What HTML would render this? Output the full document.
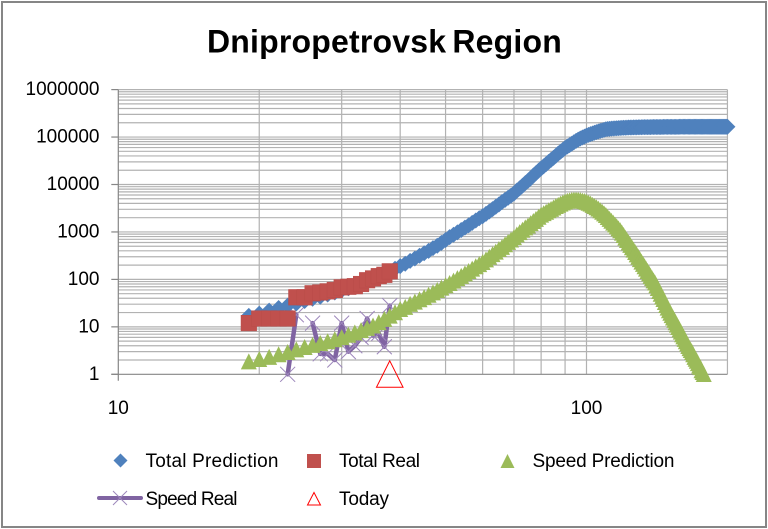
<!DOCTYPE html>
<html lang="en">
<head>
<meta charset="utf-8">
<title>Dnipropetrovsk Region</title>
<style>
html,body{margin:0;padding:0;background:#fff;}
svg{display:block;font-family:"Liberation Sans",sans-serif;}
</style>
</head>
<body>
<svg id="chart" xmlns="http://www.w3.org/2000/svg" width="768" height="529" viewBox="0 0 768 529">
  <rect x="0" y="0" width="768" height="529" fill="#ffffff"/>
  <rect x="2" y="2" width="764" height="525" fill="#ffffff" stroke="#868686" stroke-width="2"/>
  <text x="384.5" y="52.3" text-anchor="middle" font-size="32" font-weight="700" fill="#000" word-spacing="-3" letter-spacing="0.2">Dnipropetrovsk Region</text>
  <g id="grid"></g>
  <g id="axes"></g>
  <g id="marks"></g>
  <g font-size="19" fill="#000">
    <g>
      <polygon points="120.5,453.5 127.5,460.5 120.5,467.5 113.5,460.5" fill="#4F81BD"/>
      <text x="145.5" y="467" textLength="133" lengthAdjust="spacing">Total Prediction</text>
    </g>
    <g>
      <rect x="307" y="454" width="14" height="14" fill="#C0504D"/>
      <text x="339" y="467" textLength="81" lengthAdjust="spacing">Total Real</text>
    </g>
    <g>
      <polygon points="507.5,454 514.5,468 500.5,468" fill="#9BBB59"/>
      <text x="532.5" y="467" textLength="142" lengthAdjust="spacing">Speed Prediction</text>
    </g>
    <g>
      <line x1="99" y1="498" x2="141" y2="498" stroke="#8064A2" stroke-width="4" stroke-linecap="round"/>
      <path d="M113 491L127 505M127 491L113 505" stroke="#9d87bb" stroke-width="1" fill="none"/>
      <text x="145.5" y="505" textLength="92" lengthAdjust="spacing">Speed Real</text>
    </g>
    <g>
      <polygon points="314,492.5 320.5,505 307.5,505" fill="none" stroke="#ff0000" stroke-width="1"/>
      <text x="339" y="505" textLength="50" lengthAdjust="spacing">Today</text>
    </g>
  </g>
</svg>
<script>
const yTickLabels = ["1","10","100","1000","10000","100000","1000000"];
const xTickLabels = ["10","100"];
const days = [19,20,
21,22,23,24,25,26,27,28,29,30,
31,32,33,34,35,36,37,38,39,40,
41,42,43,44,45,46,47,48,49,50,
51,52,53,54,55,56,57,58,59,60,
61,62,63,64,65,66,67,68,69,70,
71,72,73,74,75,76,77,78,79,80,
81,82,83,84,85,86,87,88,89,90,
91,92,93,94,95,96,97,98,99,100,
101,102,103,104,105,106,107,108,109,110,
111,112,113,114,115,116,117,118,119,120,
121,122,123,124,125,126,127,128,129,130,
131,132,133,134,135,136,137,138,139,140,
141,142,143,144,145,146,147,148,149,150,
151,152,153,154,155,156,157,158,159,160,
161,162,163,164,165,166,167,168,169,170,
171,172,173,174,175,176,177,178,179,180,
181,182,183,184,185,186,187,188,189,190,
191,192,193,194,195,196,197,198,199,200];
const totalPrediction = [17,19,
22,25,28,31,35,39,43,48,53,59,
65,73,81,91,102,115,130,147,168,190,
214,245,275,316,355,398,457,513,589,676,
776,871,977,1096,1230,1380,1549,1738,1950,2140,
2400,2690,3020,3390,3800,4270,4730,5250,5820,6460,
7410,8320,9440,10700,12000,13500,15500,17400,19500,21900,
24300,26900,29900,33100,36300,40300,44700,49000,53700,58900,
63100,67600,72400,77600,83200,88100,93300,97700,102000,107000,
111000,115000,119000,123000,127000,131000,135000,138000,142000,146000,
147500,149000,150500,151500,152500,153500,154500,155500,156000,157000,
157500,158000,158500,159000,159300,159600,160000,160300,160700,161000,
161200,161400,161600,161800,162000,162200,162300,162400,162500,162700,
162800,162900,163000,163100,163300,163400,163500,163700,163800,164000,
164100,164100,164200,164200,164300,164300,164300,164400,164400,164400,
164500,164500,164500,164500,164600,164600,164600,164600,164700,164700,
164700,164700,164700,164800,164800,164800,164800,164800,164800,164900,
164900,164900,164900,164900,164900,164900,164900,164900,165000,165000,
165000,165000,165000,165000,165000,165000,165000,165000,165000,165000];
const speedPrediction = [1.85,2.07,
2.3,2.6,2.9,3.3,3.7,4.1,4.5,4.9,5.4,6,
6.7,7.5,8.4,9.4,10.5,12.3,14.5,17,20,23.4,
26,30,33.5,37.6,41.7,46.8,52.5,59,66,74,
83,93,105,117,132,148,166,186,207,229,
260,295,335,380,432,479,543,610,684,767,
871,977,1096,1230,1349,1514,1679,1862,2065,2291,
2455,2630,2818,3020,3236,3467,3673,3890,4121,4315,
4467,4571,4677,4732,4732,4700,4624,4519,4416,4266,
4074,3890,3673,3467,3273,3055,2818,2630,2427,2239,
2042,1862,1698,1549,1413,1288,1175,1072,955,851,
750,668,589,525,468,417,372,331,295,263,
234,209,186,166,148,132,117,105,94,85,
74,65,56,49,43,38,33,28.5,25,22,
19.5,17.4,15.5,13.8,12.3,11,9.8,8.7,7.8,6.9,
6.2,5.5,4.9,4.4,3.9,3.5,3.2,2.9,2.6,2.3,
2.1,1.9,1.7,1.5,1.4,1.2,1.1,1];
const realDays = [19,20,21,22,23,24,25,26,27,28,29,30,31,32,33,34,35,36,37,38];
const totalReal = [12,15,15,15,15,42,42,51,53,56,60,68,70,72,80,96,105,117,125,148];
const speedRealDays = [23,24,25,26,27,28,29,30,31,32,33,34,35,36,37,38];
const speedReal = [1,18,null,12,2.7,2.7,2,12,3,4,6,15,6.6,7.3,3.8,28];
const todayDay = [38];
const todayValue = [1];

const SVGNS = "http://www.w3.org/2000/svg";
const plotLeft = 118.3, pxPerXDecade = 468.2, xBase = 10, xMax = 200;
const plotBottom = 374.3, pxPerYDecade = 47.45, yDecades = 6;
const plotTop = plotBottom - yDecades * pxPerYDecade;
function xScale(v){ return plotLeft + Math.log10(v / xBase) * pxPerXDecade; }
function yScale(v){ return plotBottom - Math.log10(v) * pxPerYDecade; }
const plotRight = xScale(xMax);
function make(tag, attrs, parent){
  const el = document.createElementNS(SVGNS, tag);
  for (const k in attrs) el.setAttribute(k, attrs[k]);
  parent.appendChild(el);
  return el;
}
const grid = document.getElementById("grid");
const axes = document.getElementById("axes");
const marks = document.getElementById("marks");
const gridColor = "#b2b2b2", axisColor = "#868686";

// horizontal gridlines (major and minor)
for (let d = 0; d < yDecades; d++) {
  for (let m = 1; m <= 10; m++) {
    if (d === 0 && m === 1) continue;
    if (m === 10 && d !== yDecades - 1) continue;
    const y = yScale(m * Math.pow(10, d));
    const gl = make("line", {x1: plotLeft, x2: plotRight, y1: y, y2: y, stroke: gridColor, "stroke-width": 1.2}, grid);
    
    
  }
}
// vertical gridlines
for (let v = 20; v <= xMax; v += (v < 100 ? 10 : 100)) {
  const x = xScale(v);
  const gl = make("line", {x1: x, x2: x, y1: plotTop, y2: plotBottom, stroke: gridColor, "stroke-width": 1.2}, grid);
  
  
}
// axes
const yAxis = make("line", {x1: plotLeft, x2: plotLeft, y1: plotTop, y2: plotBottom + 6.5, stroke: axisColor, "stroke-width": 1.2}, axes);


const xAxis = make("line", {x1: plotLeft - 7, x2: plotRight, y1: plotBottom, y2: plotBottom, stroke: axisColor, "stroke-width": 1.2}, axes);


yTickLabels.forEach(function(label){
  const y = yScale(Number(label));
  const tick = make("line", {x1: plotLeft - 7, x2: plotLeft, y1: y, y2: y, stroke: axisColor, "stroke-width": 1.2}, axes);
  
  
  const t = make("text", {x: 99.5, y: y + 5.5, "text-anchor": "end", "font-size": 19, fill: "#000"}, axes);
  
  
  t.textContent = label;
});
xTickLabels.forEach(function(label){
  const x = xScale(Number(label));
  const t = make("text", {x: x, y: 414, "text-anchor": "middle", "font-size": 19, fill: "#000"}, axes);
  
  
  t.textContent = label;
});

// speed real (drawn underneath the other series; missing values break the line)
const speedRealGroup = make("g", {}, marks);


let realPath = "", penDown = false;
speedRealDays.forEach(function(d, i){
  if (speedReal[i] === null) { penDown = false; return; }
  realPath += (penDown ? "L" : "M") + xScale(d).toFixed(2) + " " + yScale(speedReal[i]).toFixed(2);
  penDown = true;
});
const speedLine = make("path", {d: realPath, fill: "none", stroke: "#8064A2", "stroke-width": 4.5, "stroke-linejoin": "round", "stroke-linecap": "round"}, speedRealGroup);


speedRealDays.forEach(function(d, i){
  if (speedReal[i] === null) return;
  const x = xScale(d), y = yScale(speedReal[i]), r = 7.5;
  const c = make("path", {d: "M" + (x - r) + " " + (y - r) + "L" + (x + r) + " " + (y + r) + "M" + (x + r) + " " + (y - r) + "L" + (x - r) + " " + (y + r), stroke: "#9d87bb", "stroke-width": 1, fill: "none"}, speedRealGroup);
  
  
});

// total prediction
const totalPredGroup = make("g", {}, marks);


totalPrediction.forEach(function(v, i){
  const x = xScale(days[i]), y = yScale(v), r = 8;
  const p = make("polygon", {points: x + "," + (y - r) + " " + (x + r) + "," + y + " " + x + "," + (y + r) + " " + (x - r) + "," + y, fill: "#4F81BD"}, totalPredGroup);
  
  
});

// total real
const totalRealGroup = make("g", {}, marks);


totalReal.forEach(function(v, i){
  const x = xScale(realDays[i]), y = yScale(v), r = 7.8;
  const p = make("rect", {x: x - r, y: y - r, width: 2 * r, height: 2 * r, fill: "#C0504D", stroke: "#b84c49", "stroke-width": 0.5}, totalRealGroup);
  
  
});

// speed prediction
const speedPredGroup = make("g", {}, marks);


speedPrediction.forEach(function(v, i){
  const x = xScale(days[i]), y = yScale(v), r = 8;
  const p = make("polygon", {points: x + "," + (y - 8.3) + " " + (x + r) + "," + (y + 7.7) + " " + (x - r) + "," + (y + 7.7), fill: "#9BBB59"}, speedPredGroup);
  
  
});

// today marker
const todayGroup = make("g", {}, marks);


todayDay.forEach(function(d, i){
  const x = xScale(d), y = yScale(todayValue[i]);
  const p = make("polygon", {points: x + "," + (y - 13.5) + " " + (x + 13.3) + "," + (y + 13) + " " + (x - 13.3) + "," + (y + 13), fill: "none", stroke: "#ff0000", "stroke-width": 1}, todayGroup);
  
  
});
</script>
</body>
</html>
